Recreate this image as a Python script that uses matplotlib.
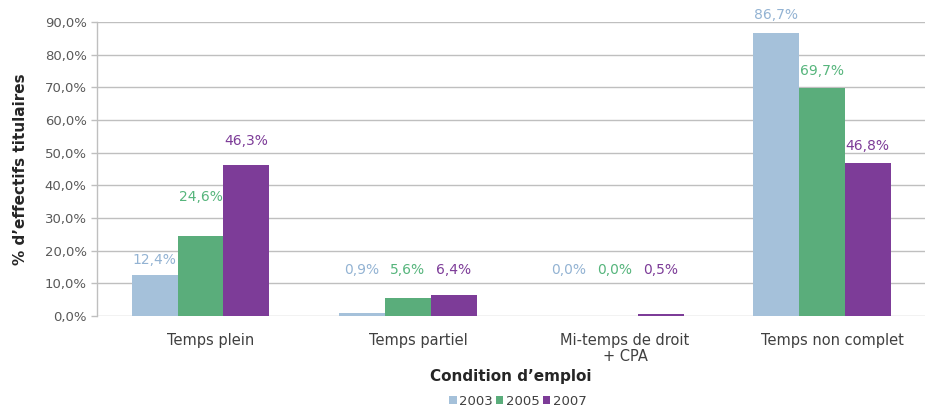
import matplotlib
matplotlib.use("Agg")
import matplotlib.pyplot as plt
import numpy as np
from matplotlib.ticker import FuncFormatter, MultipleLocator

categories = ["Temps plein", "Temps partiel", "Mi-temps de droit\n+ CPA", "Temps non complet"]
years = ["2003", "2005", "2007"]
v2003 = [12.4, 0.9, 0.0, 86.7]
v2005 = [24.6, 5.6, 0.0, 69.7]
v2007 = [46.3, 6.4, 0.5, 46.8]

# label vertical placement (styling, data units)
label_y2003 = [17.1, 14.1, 14.1, 92.1]
label_y2005 = [36.4, 14.1, 14.1, 75.0]
label_y2007 = [53.6, 14.1, 14.1, 52.0]

bar_colors = ["#a5c1da", "#5aad7b", "#7d3c98"]
label_colors = ["#93b3d3", "#56b57c", "#7d3c98"]

plt.rcParams['font.family'] = ['DejaVu Sans']

fig = plt.figure(figsize=(9.28, 4.09), dpi=100)
ax = fig.add_axes([0.1045, 0.2274, 0.8925, 0.7186])

x = np.arange(len(categories))
w = 0.222
series = [v2003, v2005, v2007]
label_ys = [label_y2003, label_y2005, label_y2007]
for i, (vals, ly) in enumerate(zip(series, label_ys)):
    pos = x + (i - 1) * w
    ax.bar(pos, vals, width=w, color=bar_colors[i], label=years[i], zorder=3)
    for p, v, yy in zip(pos, vals, ly):
        ax.text(p, yy, f"{v:.1f}%".replace(".", ","), ha="center", va="center",
                fontsize=10, color=label_colors[i], zorder=4)

ax.set_xlim(-0.5, len(categories) - 0.5)
ax.set_ylim(0, 90)
ax.yaxis.set_major_locator(MultipleLocator(10))
ax.yaxis.set_major_formatter(FuncFormatter(lambda v, p: f"{v:.1f}%".replace(".", ",")))
ax.grid(axis="y", color="#bfbfbf", linewidth=1, zorder=0)
ax.set_axisbelow(True)

for s in ["top", "right", "bottom"]:
    ax.spines[s].set_visible(False)
ax.spines["left"].set_color("#bfbfbf")
ax.spines["left"].set_linewidth(1)
ax.tick_params(axis="y", colors="#bfbfbf", labelcolor="#595959", labelsize=9.5, length=4, width=1)
ax.tick_params(axis="x", length=0, labelsize=10.5, labelcolor="#404040", pad=12)
ax.set_xticks(x + 0.05)
ax.set_xticklabels(categories, linespacing=1.1)

ax.set_ylabel("% d’effectifs titulaires", fontsize=11, fontweight="bold", color="#262626", labelpad=12)
ax.set_xlabel("Condition d’emploi", fontsize=11, fontweight="bold", color="#262626", labelpad=4)

leg = ax.legend(loc="upper center", bbox_to_anchor=(0.508, -0.25), ncol=3, frameon=False,
                fontsize=9.5, handlelength=0.6, handleheight=0.6, handletextpad=0.2,
                columnspacing=0.2, borderaxespad=0)
for t in leg.get_texts():
    t.set_color("#404040")

fig.savefig("out.png", dpi=100)
